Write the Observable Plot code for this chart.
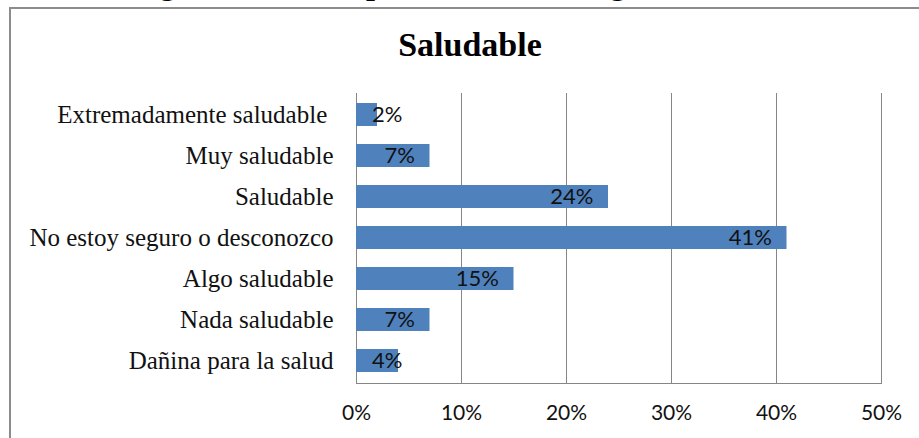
<!DOCTYPE html>
<html>
<head>
<meta charset="utf-8">
<script src="https://cdn.jsdelivr.net/npm/d3@7"></script>
<script src="https://cdn.jsdelivr.net/npm/@observablehq/plot@0.6"></script>
<style>
  html, body { margin: 0; padding: 0; background: #fff; overflow: hidden; width: 919px; height: 438px; }
  #wrap { position: relative; width: 919px; height: 438px; overflow: hidden; }
  .serif { font-family: "Liberation Serif", "Times New Roman", serif; font-weight: bold; line-height: 1; color: #000; }
  #caption { position: absolute; left: 131px; top: -33px; font-size: 32px; white-space: nowrap; }
  #title { position: absolute; left: 0; width: 940px; top: 28px; text-align: center; font-size: 34px; }
  #border { position: absolute; left: 9px; top: 7px; width: 1000px; height: 1000px; border-left: 2px solid #8c8c8c; border-top: 2px solid #8c8c8c; pointer-events: none; }
  #chart { position: absolute; left: 0; top: 0; }
  svg text { white-space: pre; }
</style>
</head>
<body>
<div id="wrap">
  <div id="caption" class="serif">Figura 3.3: Percepción sobre la sangre de cerdo</div>
  <div id="border"></div>
  <div id="title" class="serif">Saludable</div>
  <div id="chart"></div>
</div>
<script>
// Survey answers about how healthy pig blood is perceived (percent of respondents)
const categories = [
  "Extremadamente saludable ",
  "Muy saludable",
  "Saludable",
  "No estoy seguro o desconozco",
  "Algo saludable",
  "Nada saludable",
  "Dañina para la salud"
];
const shares = [2, 7, 24, 41, 15, 7, 4];
const xTicks = [0, 10, 20, 30, 40, 50];

const rows = categories.map((category, i) => ({category, share: shares[i]}));

const labelFont = "Lato, 'Open Sans', sans-serif";
const catFont = "'Liberation Serif', 'Times New Roman', serif";
const gridColor = "#868686";
const pct = d => d + "%";

const chart = Plot.plot({
  width: 919,
  height: 438,
  marginLeft: 356,
  marginRight: 38,
  marginTop: 93,
  marginBottom: 55,
  style: {background: "transparent", color: "#000", overflow: "visible"},
  x: {domain: [0, 50], ticks: xTicks, tickFormat: pct, label: null},
  y: {domain: categories, paddingInner: 0.43, paddingOuter: 0.215, label: null},
  marks: [
    Plot.ruleX(xTicks, {stroke: gridColor, strokeWidth: 1}),
    Plot.frame({anchor: "bottom", stroke: gridColor, strokeWidth: 1}),
    Plot.barX(rows, {y: "category", x: "share", fill: "#4F81BD"}),
    Plot.axisX(xTicks, {tickSize: 0, tickPadding: 22, tickFormat: pct, fontSize: 21, fontFamily: labelFont, fill: "#111", label: null}),
    Plot.axisY({tickSize: 0, tickPadding: 23, fontSize: 25, fontFamily: catFont, fill: "#111", label: null}),
    // value labels sit at the inner end of each bar, but never left of the axis for short bars
    Plot.text(rows, {
      y: "category",
      x: d => Math.max(d.share, 5.8),
      text: d => pct(d.share),
      textAnchor: "end",
      dx: -15,
      fontSize: 22,
      fontFamily: labelFont,
      fill: "#111"
    })
  ]
});
document.getElementById("chart").append(chart);
</script>
</body>
</html>
